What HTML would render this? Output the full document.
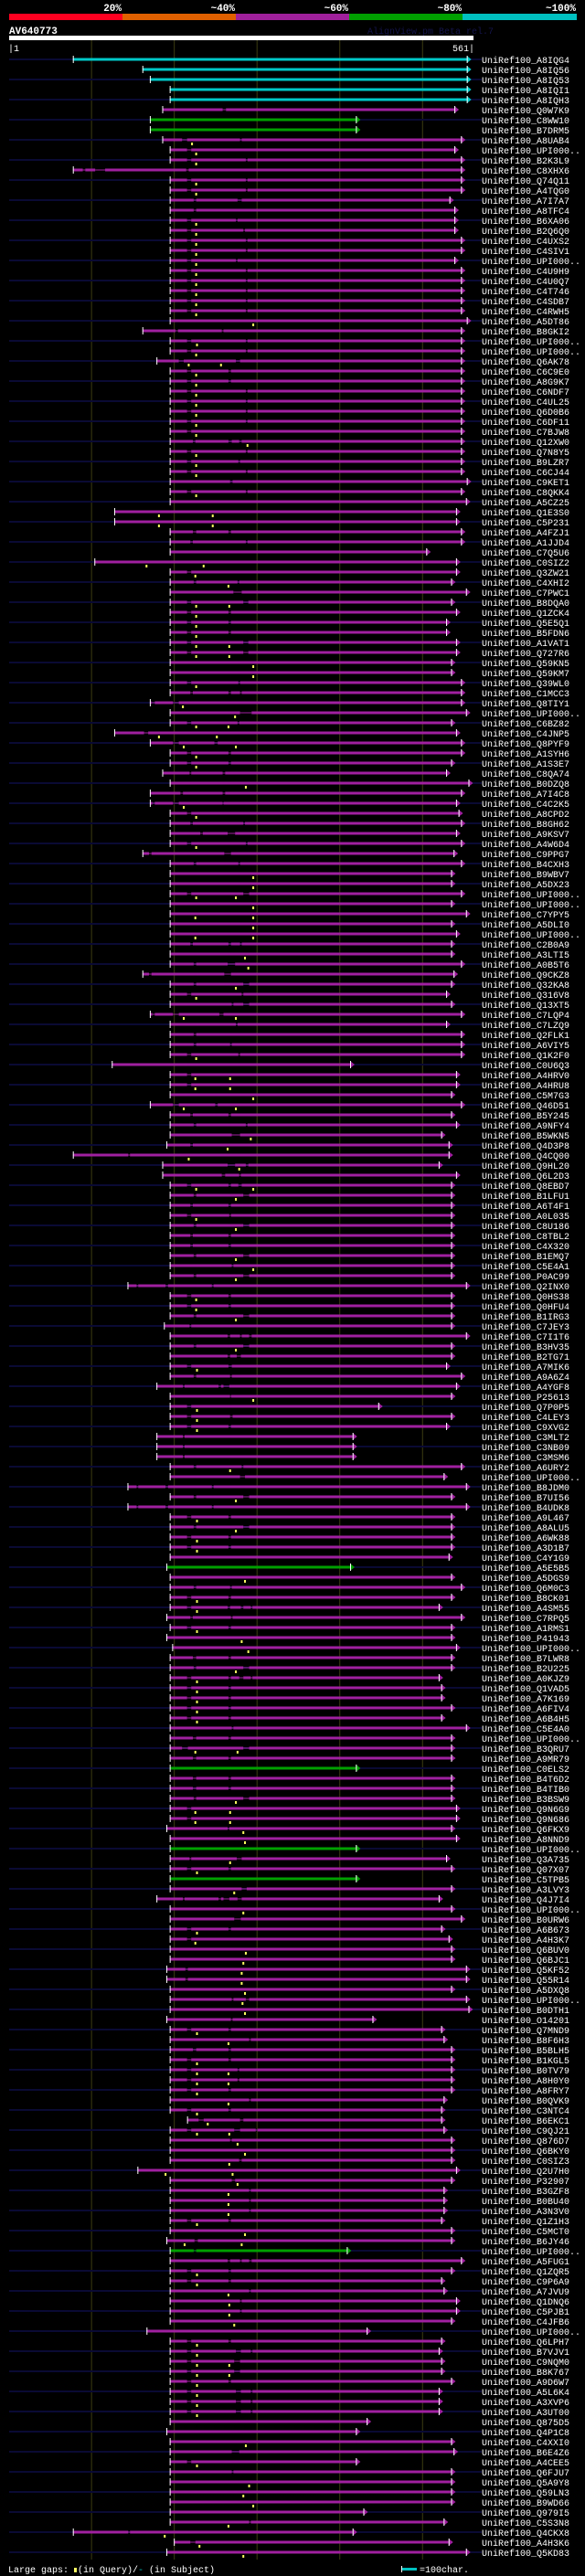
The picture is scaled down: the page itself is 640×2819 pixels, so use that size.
<!DOCTYPE html>
<html><head><meta charset="utf-8"><title>AV640773 alignment</title>
<style>
html,body{margin:0;padding:0;background:#000;}
svg{display:block;}
text{font-family:"Liberation Mono","DejaVu Sans Mono",monospace;}
</style></head>
<body>
<svg id="chart" width="640" height="2819" viewBox="0 0 640 2819" xmlns="http://www.w3.org/2000/svg">
<rect x="0" y="0" width="640" height="2819" fill="#000"/>
<g font-size="11" font-weight="bold" fill="#fff" text-anchor="end">
<text x="133" y="12">20%</text>
<text x="257" y="12">~40%</text>
<text x="381" y="12">~60%</text>
<text x="505" y="12">~80%</text>
<text x="630" y="12">~100%</text>
</g>
<rect x="10" y="15" width="124" height="7" fill="#ff0020"/>
<rect x="134" y="15" width="124" height="7" fill="#e06000"/>
<rect x="258" y="15" width="124" height="7" fill="#a0209c"/>
<rect x="382" y="15" width="124" height="7" fill="#00a000"/>
<rect x="506" y="15" width="125" height="7" fill="#00c0c0"/>
<text x="10" y="37" font-size="11" font-weight="bold" fill="#fff">AV640773</text>
<text x="402" y="37" font-size="10" fill="#14144a">AlignView.pm Beta rel.7</text>
<rect x="10" y="39" width="508" height="5" fill="#fff"/>
<text x="9" y="56" font-size="10" fill="#fff">|1</text>
<text x="519" y="56" font-size="10" fill="#fff" text-anchor="end">561|</text>
<g id="grid"></g>
<g id="rows"></g>
<g font-size="10" fill="#fff">
<text x="9" y="2815">Large gaps:</text>
<rect x="81" y="2810" width="3" height="5" fill="#ffff60"/>
<text x="85" y="2815">(in Query)/<tspan fill="#00c0c0">-</tspan> (in Subject)</text>
<rect x="439" y="2808" width="1" height="7" fill="#fff"/>
<rect x="440" y="2810" width="16" height="3" fill="#00c0c0"/>
<text x="459" y="2815">=100char.</text>
</g>
</svg>
<script>
const gridTicks = [100, 200, 300, 400, 500];
const names = ["A8IQG4","A8IQ56","A8IQ53","A8IQI1","A8IQH3","Q0W7K9","C8WW10","B7DRM5","A8UAB4","UPI000..","B2K3L9","C8XHX6","Q74Q11","A4TQG0","A7I7A7","A8TFC4","B6XA06","B2Q6Q0","C4UXS2","C4SIV1","UPI000..","C4U9H9","C4U0Q7","C4T746","C4SDB7",
"C4RWH5","A5DT86","B8GKI2","UPI000..","UPI000..","Q6AK78","C6C9E0","A8G9K7","C6NDF7","C4UL25","Q6D0B6","C6DF11","C7BJW8","Q12XW0","Q7N8Y5","B9LZR7","C6CJ44","C9KET1","C8QKK4","A5CZ25","Q1E3S0","C5P231","A4FZJ1","A1JJD4","C7Q5U6",
"C0SIZ2","Q3ZW21","C4XHI2","C7PWC1","B8DQA0","Q1ZCK4","Q5E5Q1","B5FDN6","A1VAT1","Q727R6","Q59KN5","Q59KM7","Q39WL0","C1MCC3","Q8TIY1","UPI000..","C6BZ82","C4JNP5","Q8PYF9","A1SYH6","A1S3E7","C8QA74","B0DZQ8","A7I4C8","C4C2K5",
"A8CPD2","B8GH62","A9KSV7","A4W6D4","C9PPG7","B4CXH3","B9WBV7","A5DX23","UPI000..","UPI000..","C7YPY5","A5DLI0","UPI000..","C2B0A9","A3LTI5","A0B5T6","Q9CKZ8","Q32KA8","Q316V8","Q13XT5","C7LQP4","C7LZQ9","Q2FLK1","A6VIY5","Q1K2F0",
"C0U6Q3","A4HRV0","A4HRU8","C5M7G3","Q46D51","B5Y245","A9NFY4","B5WKN5","Q4D3P8","Q4CQ00","Q9HL20","Q6L2D3","Q8EBD7","B1LFU1","A6T4F1","A0L035","C8U186","C8TBL2","C4X320","B1EMQ7","C5E4A1","P0AC99","Q2INX0","Q0HS38","Q0HFU4",
"B1IRG3","C7JEY3","C7I1T6","B3HV35","B2TG71","A7MIK6","A9A6Z4","A4YGF8","P25613","Q7P0P5","C4LEY3","C9XVG2","C3MLT2","C3NB09","C3MSM6","A6URY2","UPI000..","B8JDM0","B7UI56","B4UDK8","A9L467","A8ALU5","A6WK88","A3D1B7","C4Y1G9",
"A5E5B5","A5DGS9","Q6M0C3","B8CK01","A4SM55","C7RPQ5","A1RMS1","P41943","UPI000..","B7LWR8","B2U225","A0KJZ9","Q1VAD5","A7K169","A6FIV4","A6B4H5","C5E4A0","UPI000..","B3QRU7","A9MR79","C0ELS2","B4T6D2","B4TIB0","B3BSW9","Q9N6G9",
"Q9N686","Q6FKX9","A8NND9","UPI000..","Q3A735","Q07X07","C5TPB5","A3LVY3","Q4J7I4","UPI000..","B0URW6","A6B673","A4H3K7","Q6BUV0","Q6BJC1","Q5KF52","Q55R14","A5DXQ8","UPI000..","B0DTH1","O14201","Q7MND9","B8F6H3","B5BLH5","B1KGL5",
"B0TV79","A8H0Y0","A8FRY7","B0QVK9","C3NTC4","B6EKC1","C9QJ21","Q876D7","Q6BKY0","C0SIZ3","Q2U7H0","P32907","B3GZF8","B0BU40","A3N3V0","Q1Z1H3","C5MCT0","B6JY46","UPI000..","A5FUG1","Q1ZQR5","C9P6A9","A7JVU9","Q1DNQ6","C5PJB1",
"C4JFB6","UPI000..","Q6LPH7","B7VJV1","C9NQM0","B8K767","A9D6W7","A5L6K4","A3XVP6","A3UT00","Q875D5","Q4P1C8","C4XXI0","B6E4Z6","A4CEE5","Q6FJU7","Q5A9Y8","Q59LN3","B9WD66","Q979I5","C5S3N8","Q4CKX8","A4H3K6","Q5KD83"];
const starts = [78,162,171,195,195,186,171,171,186,195,195,78,195,195,195,195,195,195,195,195,195,195,195,195,195,
195,195,162,195,195,179,195,195,195,195,195,195,195,195,195,195,195,195,195,195,128,128,195,195,195,
104,195,195,195,195,195,195,195,195,195,195,195,195,195,171,195,195,128,171,195,195,186,195,171,171,
195,195,195,195,162,195,195,195,195,195,195,195,195,195,195,195,162,195,195,195,171,195,195,195,195,
125,195,195,195,171,195,195,195,191,78,186,186,195,195,195,195,195,195,195,195,195,195,144,195,195,
195,188,195,195,195,195,195,179,195,195,195,195,179,179,179,195,195,144,195,144,195,195,195,195,195,
191,195,195,195,195,191,195,191,198,195,195,195,195,195,195,195,195,195,195,195,195,195,195,195,195,
195,191,195,195,195,195,195,195,179,195,195,195,195,195,195,191,191,195,195,195,191,195,195,195,195,
195,195,195,195,195,216,195,195,195,195,156,195,195,195,195,195,195,191,195,195,195,195,195,195,195,
195,167,195,195,195,195,195,195,195,195,195,191,195,195,195,195,195,195,195,195,195,78,200,191];
const ends = [554,554,554,554,554,539,420,420,547,539,547,547,547,547,533,539,539,539,547,547,539,547,547,547,547,
547,554,547,547,547,547,547,547,547,547,547,547,547,547,547,547,547,554,547,553,541,541,547,547,505,
541,541,535,553,535,541,529,529,541,541,535,535,547,547,547,553,535,541,547,547,535,529,556,547,541,
544,547,541,547,538,547,535,535,547,535,553,535,541,535,535,547,538,535,529,535,547,529,547,547,547,
413,541,541,535,547,535,541,523,532,532,520,541,535,535,535,535,535,535,535,535,535,535,553,535,535,
535,535,553,535,535,529,547,541,535,447,535,529,416,416,416,547,526,553,535,553,535,535,535,535,532,
413,535,547,535,520,547,535,535,541,535,535,520,523,523,535,523,553,535,535,535,420,535,535,535,541,
541,535,541,420,529,535,420,535,520,535,547,523,532,535,535,553,553,535,553,556,440,523,526,535,535,
535,535,535,526,523,523,526,535,535,535,541,535,526,526,526,523,535,535,409,547,535,523,526,541,541,
535,433,523,520,523,523,535,520,520,520,433,420,535,538,420,535,535,535,535,429,526,416,532,553];
const identityClass = "cccccmggmmmmmmmmmmmmmmmmm" + "mmmmmmmmmmmmmmmmmmmmmmmmm" + "mmmmmmmmmmmmmmmmmmmmmmmmm" + "mmmmmmmmmmmmmmmmmmmmmmmmm" + "mmmmmmmmmmmmmmmmmmmmmmmmm" + "mmmmmmmmmmmmmmmmmmmmmmmmm" + "gmmmmmmmmmmmmmmmmmmmgmmmm" + "mmmgmmgmmmmmmmmmmmmmmmmmm" + "mmmmmmmmmmmmmmmmmmgmmmmmm" + "mmmmmmmmmmmmmmmmmmmmmmmm";
const A = "216-221,287-289", B = "216-221,266-269", C = "223-227,266-269", D = "224-227,284-291", Q = "155-157,190-193,246-248", W = "216-221,275-281,293-295";
const gaps = ["","","","","","259-263","","","210-216,280-282","216-221",A,"90-93,105-117,215-218",A,A,"224-227,277-282","224-227","216-221,275-277","216-221,284-286",A,A,"216-221,275-277",A,A,A,A,
A,"","202-205,258-260",A,A,"206-212,275-280",B,B,A,A,A,A,"216-221","223-226,266-270,279-282",A,"216-221,278-280",A,"268-271",A,"","","",C,"220-223,287-289","",
"","216-221","224-227,277-279","272-282","216-221,284-290",B,B,B,"216-221,284-290","216-221,284-290","","","216-221,278-280","220-223,266-269,280-282","173-177,199-206","280-294","216-221,277-279","164-169","199-206,249-253",B,B,"219-221,259-262","","208-211,259-262","174-177,199-206,259-260",
"216-221","220-223,284-286","232-235,265-274",A,"170-173,261-269","224-227,278-280","","","216-221,284-291","","","","","220-223,266-269,280-282","","224-227,265-274","170-173,261-269",D,"216-221,282-284","270-272,284-291","174-177,199-206,255-260","275-277","224-227","224-227,268-270","216-221,278-280",
"","216-221","216-221","","199-206,250-253","220-223,266-269","224-227,287-289","270-280","220-223","145-147","265-274,287-290","258-262,279-281","216-221,266-269,278-282",D,"220-223,266-269","216-221,267-269",D,"220-223,266-269","220-223,266-269",D,"270-272",D,Q,B,B,
D,"219-221","265-268,280-282,291-294",D,"265-268,276-281","216-221,266-270","224-227,268-270","211-213,254-257,260-267","268-269","216-221","216-221,268-271",B,"211-213","211-213","211-213","224-227,282-284","280-286",Q,D,Q,B,D,B,B,"",
"","","224-227,268-270",B,"216-221,265-268,281-284,293-295","220-223,269-271",B,"","",C,D,"216-221,266-269,279-284,293-295",B,B,B,B,"270-272",C,"210-217,284-291",C,"",C,C,D,"216-221",
"216-221","265-267","","","219-221,276-282",B,"","282-288","211-213,254-257,260-267,277-282","","273-281",B,"216-221","","","214-217","214-217","","270-272,287-291","","269-271",B,"291-293",C,B,
"216-221,277-279","216-221,277-279",B,"291-293",B,"230-236,280-284","216-221,273-280,299-301","268-270","","279-282","","270-274","291-293","291-293","291-293",B,"","225-229","224-227","265-268,280-282,291-294",B,B,"291-293","280-282","280-282",
"","",B,W,"216-221,273-280","216-221,273-280",B,W,W,W,"","","","270-279","216-221","270-272","","","","","291-293","145-147","220-226",""];
const marks = ["","","","","","","","","222","227","227","","227","227","","","227","227","227","227","227","227","227","227","227",
"227","296","","228","227","218,257","227","227","227","227","227","227","227","289","227","227","227","","227","","182,247","182,247","","","",
"167,236","226","266","","227,267","227","227","227","227,267","227,267","296","296","227","","211","274","227,266","182,252","212,275","227","227","","287","","212",
"227","","","227","","","296","296","227,275","296","226,296","296","226,296","","286","290","","275","227","","212,275","","","","227",
"","226,268","226,268","296","212,275","","","293","265","218","279","","227,296","275","","227","275","","","275","296","275","","227","227",
"275","","","275","","228","","","296","228","228","228","","","","268","","","275","","228","275","228","228","",
"","286","","228","228","","228","282","290","","275","228","228","228","228","228","","","226,277","","","","","275","226,268",
"226,268","284","286","","268","228","","273","","284","","228","226","287","284","282","282","286","283","286","","228","266","","228",
"228,266","228,266","228","266","228","241","228,267","277","286","267","190,271","277","266","266","266","228","286","213,282","","","228","228","266","267","267",
"273","","228","228","228,267","228,267","228","228","228","228","","","287","","228","","291","284","296","","266","189","231","284"];

const NS = "http://www.w3.org/2000/svg";
const QLEN = 561, X0 = 10, X1 = 517, ROW0 = 65, ROWH = 11;
function xOf(res) { return X0 + (res - 1) * (X1 - X0) / (QLEN - 1); }
function yOf(i) { return ROW0 + i * ROWH; }
const colorOf = { c: "#00c8c8", g: "#00a000", m: "#a020a0" };
function mk(tag, attrs, parent) {
  const e = document.createElementNS(NS, tag);
  for (const k in attrs) e.setAttribute(k, attrs[k]);
  parent.appendChild(e);
  return e;
}
const grid = document.getElementById("grid");
const rowsG = document.getElementById("rows");
const lastY = yOf(names.length - 1) + 8;
gridTicks.forEach(function (t) {
  const l = mk("line", { x1: xOf(t) + 0.5, x2: xOf(t) + 0.5, y1: 44, y2: lastY, stroke: "#3c3c12", "stroke-width": 1 }, grid);
  
  
});
names.forEach(function (nm, i) {
  const cy = yOf(i);
  const g = mk("g", {}, rowsG);
  
  
  if (i % 2 === 0) {
    const s = mk("rect", { x: 10, y: cy - 1, width: 517, height: 2, fill: "#0a0a34" }, g);
    
    
  }
  const col = colorOf[identityClass[i]];
  const s0 = starts[i], e0 = ends[i];
  const gl = gaps[i] ? gaps[i].split(",").map(function (p) { return p.split("-").map(Number); }) : [];
  let cur = s0;
  const segs = [];
  gl.forEach(function (gp) { segs.push([cur, gp[0]]); cur = gp[1]; });
  segs.push([cur, e0]);
  gl.forEach(function (gp) {
    const t = mk("rect", { x: xOf(gp[0]), y: cy - 0.5, width: Math.max(1, xOf(gp[1]) - xOf(gp[0])), height: 1, fill: col }, g);
    
    
  });
  segs.forEach(function (sg) {
    const b = mk("rect", { x: xOf(sg[0]), y: cy - 1.5, width: Math.max(1, xOf(sg[1]) - xOf(sg[0])), height: 3, fill: col }, g);
    
    
  });
  const xe = xOf(e0);
  const tri = mk("polygon", { points: xe + "," + (cy - 4) + " " + (xe + 5) + "," + cy + " " + xe + "," + (cy + 4), fill: col }, g);
  
  
  const et = mk("rect", { x: xe, y: cy - 4, width: 1, height: 8, fill: "#fff" }, g);
  
  
  const st = mk("rect", { x: xOf(s0), y: cy - 4, width: 1, height: 8, fill: "#fff" }, g);
  
  
  if (marks[i]) {
    marks[i].split(",").map(Number).forEach(function (m) {
      const mm = mk("rect", { x: xOf(m) - 1, y: cy + 3, width: 2, height: 3, fill: "#ffff60" }, g);
      
      
    });
  }
  const tx = mk("text", { x: 527, y: cy + 4, "font-size": 10, fill: "#fff" }, g);
  tx.textContent = "UniRef100_" + nm;
  
  
});
</script>
</body></html>
